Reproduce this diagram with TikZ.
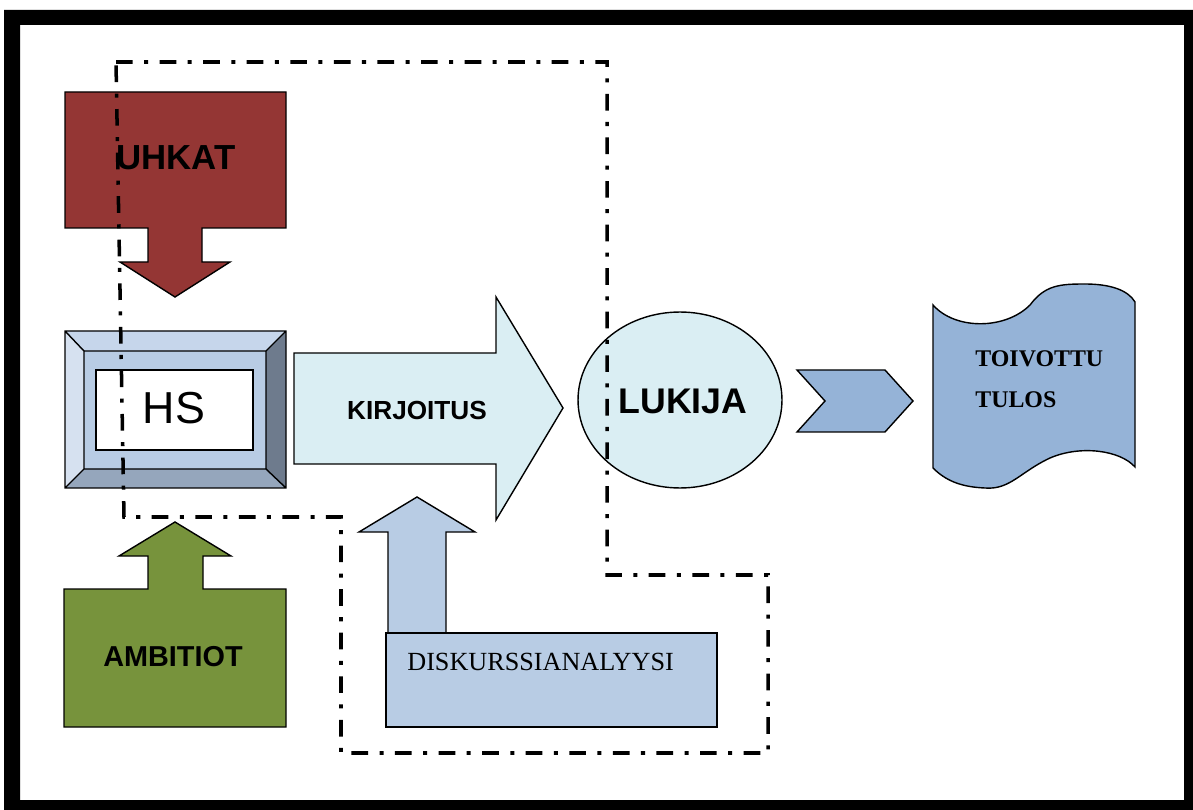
\documentclass[tikz,border=0pt]{standalone}
\usepackage{fontspec}
\setmainfont{Liberation Serif}
\setsansfont{Liberation Sans}
\usetikzlibrary{shapes.geometric}
\definecolor{uhkred}{HTML}{943634}
\definecolor{ambgreen}{HTML}{77933C}
\definecolor{kirjblue}{HTML}{DAEEF3}
\definecolor{hsblue}{HTML}{B8CCE4}
\definecolor{hstop}{HTML}{C6D6EB}
\definecolor{hsleft}{HTML}{D6E1F0}
\definecolor{hsright}{HTML}{6E7B8D}
\definecolor{hsbottom}{HTML}{95A6BC}
\definecolor{tulosblue}{HTML}{95B3D7}
\tikzset{
    shapeline/.style={draw=black,line width=0.8pt,line join=miter},
    frontier/.style={line width=2pt,dash pattern=on 9.5pt off 6.5pt on 2.3pt off 6.5pt},
    boldlbl/.style={font=\sffamily\bfseries\fontsize{#1}{#1}\selectfont,inner sep=0pt},
    seriflbl/.style={font=\rmfamily\fontsize{#1}{#1}\selectfont,inner sep=0pt},
    serifbold/.style={font=\rmfamily\bfseries\fontsize{#1}{#1}\selectfont,inner sep=0pt},
    lukija/.style={ellipse,shapeline,fill=kirjblue,minimum width=4.08cm,minimum height=3.52cm,inner sep=0pt}
}
\begin{document}
\begin{tikzpicture}[x=0.02cm,y=-0.02cm]
\useasboundingbox (0,0) rectangle (1193,810);
% frame
\fill[even odd rule] (4,10) rectangle (1193,810) (20,25) rectangle (1184,800);

% uhkat
\draw[shapeline,fill=uhkred] (65,92) -- (286,92) -- (286,228) -- (202,228) -- (202,262) -- (230,262)
  -- (175,297) -- (120,262) -- (148,262) -- (148,228) -- (65,228) -- cycle;

% hs bevel
\fill[hsblue] (84,351) rectangle (266,469);
\fill[hstop] (65,331) -- (286,331) -- (266,351) -- (84,351) -- cycle;
\fill[hsright] (286,331) -- (286,488) -- (266,469) -- (266,351) -- cycle;
\fill[hsbottom] (65,488) -- (286,488) -- (266,469) -- (84,469) -- cycle;
\fill[hsleft] (65,331) -- (84,351) -- (84,469) -- (65,488) -- cycle;
\draw[shapeline] (65,331) rectangle (286,488) (84,351) rectangle (266,469)
  (65,331) -- (84,351) (286,331) -- (266,351) (286,488) -- (266,469) (65,488) -- (84,469);
\draw[shapeline,fill=white] (96,370) rectangle (253,450);

% kirjoitus
\draw[shapeline,fill=kirjblue] (294,353) -- (496,353) -- (496,297) -- (563,408) -- (496,520)
  -- (496,464) -- (294,464) -- cycle;

% ambitiot
\draw[shapeline,fill=ambgreen] (64,727) -- (64,589) -- (148,589) -- (148,556) -- (119,556) -- (175,522)
  -- (231,556) -- (203,556) -- (203,589) -- (286,589) -- (286,727) -- cycle;

% diskurssianalyysi
\draw[shapeline,fill=hsblue] (388,633) -- (388,532) -- (359,532) -- (417,497) -- (475,532) -- (446,532) -- (446,633);
\draw[shapeline,fill=hsblue] (386,633) rectangle (717,727);

% tulos
\draw[shapeline,fill=tulosblue] (797,370) -- (885,370) -- (913,401) -- (885,432) -- (797,432) -- (825,401) -- cycle;
\draw[shapeline,fill=tulosblue] (933,305) .. controls (955,330) and (1005,330) .. (1030,305)
  .. controls (1045,285) and (1060,284) .. (1085,284) .. controls (1110,284) and (1128,290) .. (1135,302)
  -- (1135,467) .. controls (1120,450) and (1080,445) .. (1050,458)
  .. controls (1020,472) and (1010,490) .. (985,488) .. controls (960,487) and (945,480) .. (933,468) -- cycle;

\node[lukija] (lukija) at (680,400) {};

% boundary
\draw[frontier] (116,62) -- (607,62) -- (607,575) -- (768,575) -- (768,753) -- (341,753) -- (341,517)
  -- (124,517) -- cycle;

% labels
\node[boldlbl=19.8pt] (uhkat) at (176,158) {UHKAT};
\node[font=\sffamily\fontsize{25.5pt}{25.5pt}\selectfont,inner sep=0pt] (hs) at (174,408) {HS};
\node[boldlbl=14.9pt] (kirjoitus) at (417,410) {KIRJOITUS};
\node[boldlbl=20.3pt] (lukijatext) at (683,401) {LUKIJA};
\node[boldlbl=16.4pt] (ambitiot) at (173,657) {AMBITIOT};
\node[seriflbl=14.9pt,anchor=base west] (diskurssi) at (407,670) {DISKURSSIANALYYSI};
\node[serifbold=13.6pt,anchor=base west] (toivottu) at (975,367) {TOIVOTTU};
\node[serifbold=13.6pt,anchor=base west] (tulos) at (975,408) {TULOS};
\end{tikzpicture}
\end{document}
